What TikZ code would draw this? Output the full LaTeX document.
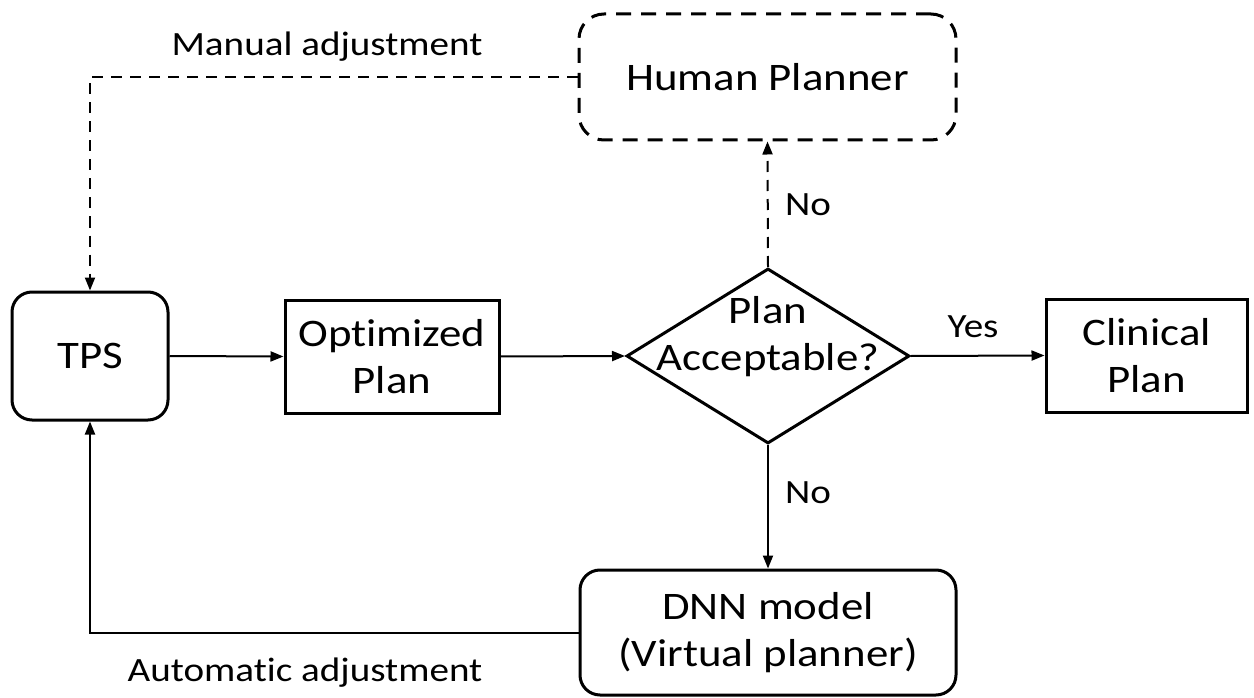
\documentclass[tikz,border=0pt]{standalone}
\usepackage{fontspec}
\setmainfont{Carlito}[FakeStretch=1.15,Ligatures=NoCommon]
\usetikzlibrary{arrows.meta,shapes.geometric}
\begin{document}
\begin{tikzpicture}[x=1pt,y=-1pt,
  box/.style={draw,line width=3pt,inner sep=0pt,align=center,font=\fontsize{39}{47}\selectfont},
  rbox/.style={box,rounded corners=20pt},
  conn/.style={line width=2pt,-{Triangle[length=13pt,width=10pt]}},
  dconn/.style={conn,dash pattern=on 11pt off 8pt},
  lbl/.style={font=\fontsize{34}{41}\selectfont,inner sep=0pt}]
\useasboundingbox (0,0) rectangle (1254,698);
\node[rbox,dash pattern=on 15pt off 10pt,rounded corners=25pt,minimum width=377pt,minimum height=126pt] (hp) at (767.5,77) {Human Planner};
\node[rbox,minimum width=156pt,minimum height=128pt] (tps) at (90,356) {TPS};
\node[box,minimum width=214pt,minimum height=113pt] (opt) at (392,356.5) {Optimized\\Plan};
\node[draw,line width=3pt,diamond,inner sep=0pt,minimum width=283pt,minimum height=175pt] (dec) at (768,356) {};
\node[align=center,inner sep=0pt,font=\fontsize{39}{47}\selectfont] (dectext) at (768,337) {Plan\\Acceptable?};
\node[box,minimum width=201pt,minimum height=113pt] (clin) at (1146.5,355.5) {Clinical\\Plan};
\node[rbox,minimum width=376pt,minimum height=125pt] (dnn) at (768,632.5) {DNN model\\(Virtual planner)};
\draw[conn] (tps.east) -- (opt.west);
\draw[conn] (opt.east) -- (dec.west);
\draw[conn] (dec.east) -- (clin.west);
\node[lbl] (yes) at (973,327) {Yes};
\draw[dconn] (dec.north) -- (hp.south);
\node[lbl] (no1) at (808,205) {No};
\draw[conn] (dec.south) -- (dnn.north);
\node[lbl] (no2) at (808,493) {No};
\draw[dconn] (hp.west) -| (tps.north);
\node[lbl] (man) at (327,47) {Manual adjustment};
\draw[conn] (dnn.west) -| (tps.south);
\node[lbl] (auto) at (305,673) {Automatic adjustment};
\end{tikzpicture}
\end{document}
